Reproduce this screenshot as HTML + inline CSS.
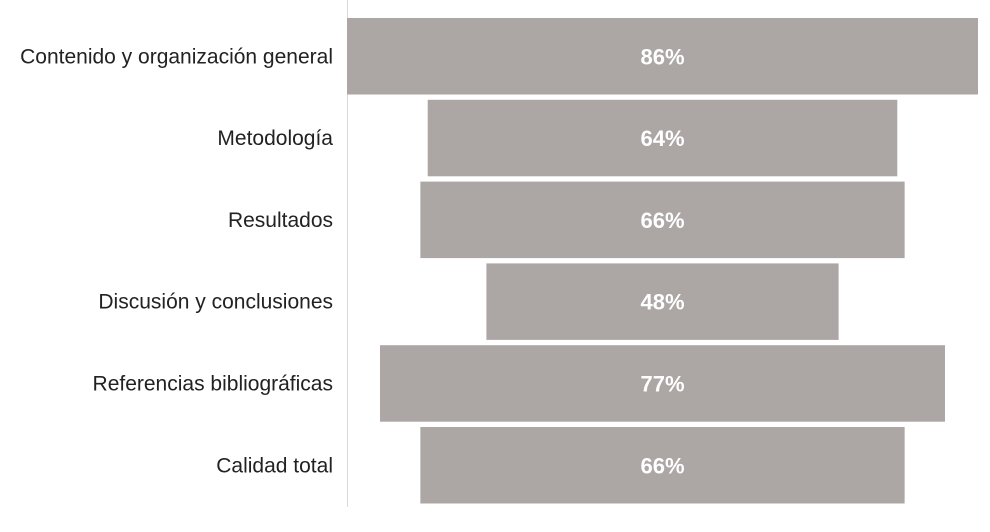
<!DOCTYPE html>
<html><head><meta charset="utf-8"><style>
html,body{margin:0;padding:0;background:#fff;width:990px;height:532px;overflow:hidden}
svg{display:block}
text{font-family:"Liberation Sans",sans-serif}
</style></head><body>
<svg id="chart" width="990" height="532">
<line x1="347.5" y1="0" x2="347.5" y2="507" stroke="#d9d9d9" stroke-width="1"/>
<g id="bars"></g>
</svg>
<script>
const categories=["Contenido y organización general","Metodología","Resultados","Discusión y conclusiones","Referencias bibliográficas","Calidad total"];
const values=[86,64,66,48,77,66];
const labels=["86%","64%","66%","48%","77%","66%"];
const NS="http://www.w3.org/2000/svg";
const g=document.getElementById('bars');
const cx=662.5, pxPer=631/86, top0=18, pitch=81.8, bh=76.5;
function xw(v){return v*pxPer;}
function yb(i){return top0+i*pitch;}
categories.forEach((c,i)=>{
  const w=xw(values[i]), y=yb(i);
  const r=document.createElementNS(NS,'rect');
  r.setAttribute('x',cx-w/2);r.setAttribute('y',y);r.setAttribute('width',w);r.setAttribute('height',bh);
  r.setAttribute('fill','#aca6a5');
  
  
  g.appendChild(r);
  const t=document.createElementNS(NS,'text');
  t.setAttribute('x',cx);t.setAttribute('y',y+bh/2+8);t.setAttribute('text-anchor','middle');
  t.setAttribute('fill','#fff');t.setAttribute('font-size','22');t.setAttribute('font-weight','bold');
  t.textContent=labels[i];
  
  
  g.appendChild(t);
  const l=document.createElementNS(NS,'text');
  l.setAttribute('x',333);l.setAttribute('y',y+bh/2+7);l.setAttribute('text-anchor','end');
  l.setAttribute('fill','#222');l.setAttribute('font-size','21');
  l.textContent=c;
  
  
  g.appendChild(l);
});
</script>
</body></html>
